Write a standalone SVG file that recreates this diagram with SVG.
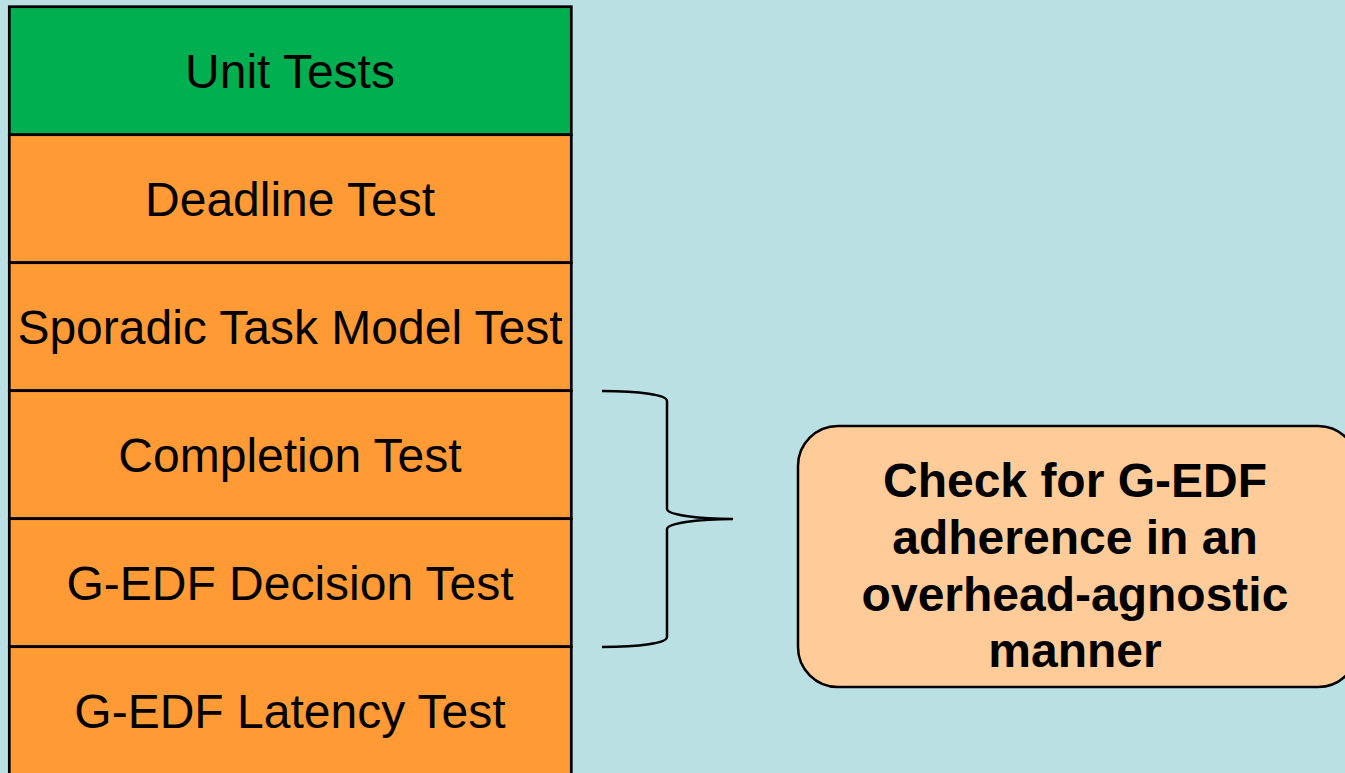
<svg xmlns="http://www.w3.org/2000/svg" width="1345" height="773" viewBox="0 0 1345 773">
  <style>
    .cell { stroke: #000; stroke-width: 2.7; }
    .green { fill: #00B050; }
    .orange { fill: #FF9A35; }
    .label { font-family: "Liberation Sans", Arial, sans-serif; font-size: 48px; fill: #000; text-anchor: middle; }
    .note { font-family: "Liberation Sans", Arial, sans-serif; font-size: 48px; font-weight: bold; fill: #000; text-anchor: middle; }
    .brace { fill: none; stroke: #000; stroke-width: 2.5; }
  </style>
  <rect x="0" y="0" width="1345" height="773" fill="#BBE0E3"/>

  <g id="unit-tests">
    <rect class="cell green" x="9.3" y="6.7" width="562" height="128"/>
    <text class="label" x="290" y="88">Unit Tests</text>
  </g>
  <g id="deadline-test">
    <rect class="cell orange" x="9.3" y="134.7" width="562" height="128"/>
    <text class="label" x="290" y="216">Deadline Test</text>
  </g>
  <g id="sporadic-test">
    <rect class="cell orange" x="9.3" y="262.7" width="562" height="128"/>
    <text class="label" x="290" y="344">Sporadic Task Model Test</text>
  </g>
  <g id="completion-test">
    <rect class="cell orange" x="9.3" y="390.7" width="562" height="128"/>
    <text class="label" x="290" y="472">Completion Test</text>
  </g>
  <g id="decision-test">
    <rect class="cell orange" x="9.3" y="518.7" width="562" height="128"/>
    <text class="label" x="290" y="600">G-EDF Decision Test</text>
  </g>
  <g id="latency-test">
    <rect class="cell orange" x="9.3" y="646.7" width="562" height="140"/>
    <text class="label" x="290" y="728">G-EDF Latency Test</text>
  </g>

  <g id="connectors">
    <path class="brace" d="M602,391 C640,391 667,395 667,401 L667,509 C667,515 700,519 733,519 C700,519 667,523 667,529 L667,637 C667,643 640,647 602,647"/>
  </g>

  <g id="overhead-note">
    <rect x="798" y="426" width="560" height="261" rx="40" ry="40" fill="#FFCC99" stroke="#000" stroke-width="2.5"/>
    <text class="note" x="1075" y="497">Check for G-EDF</text>
    <text class="note" x="1075" y="554">adherence in an</text>
    <text class="note" x="1075" y="611">overhead-agnostic</text>
    <text class="note" x="1075" y="667">manner</text>
  </g>
</svg>
